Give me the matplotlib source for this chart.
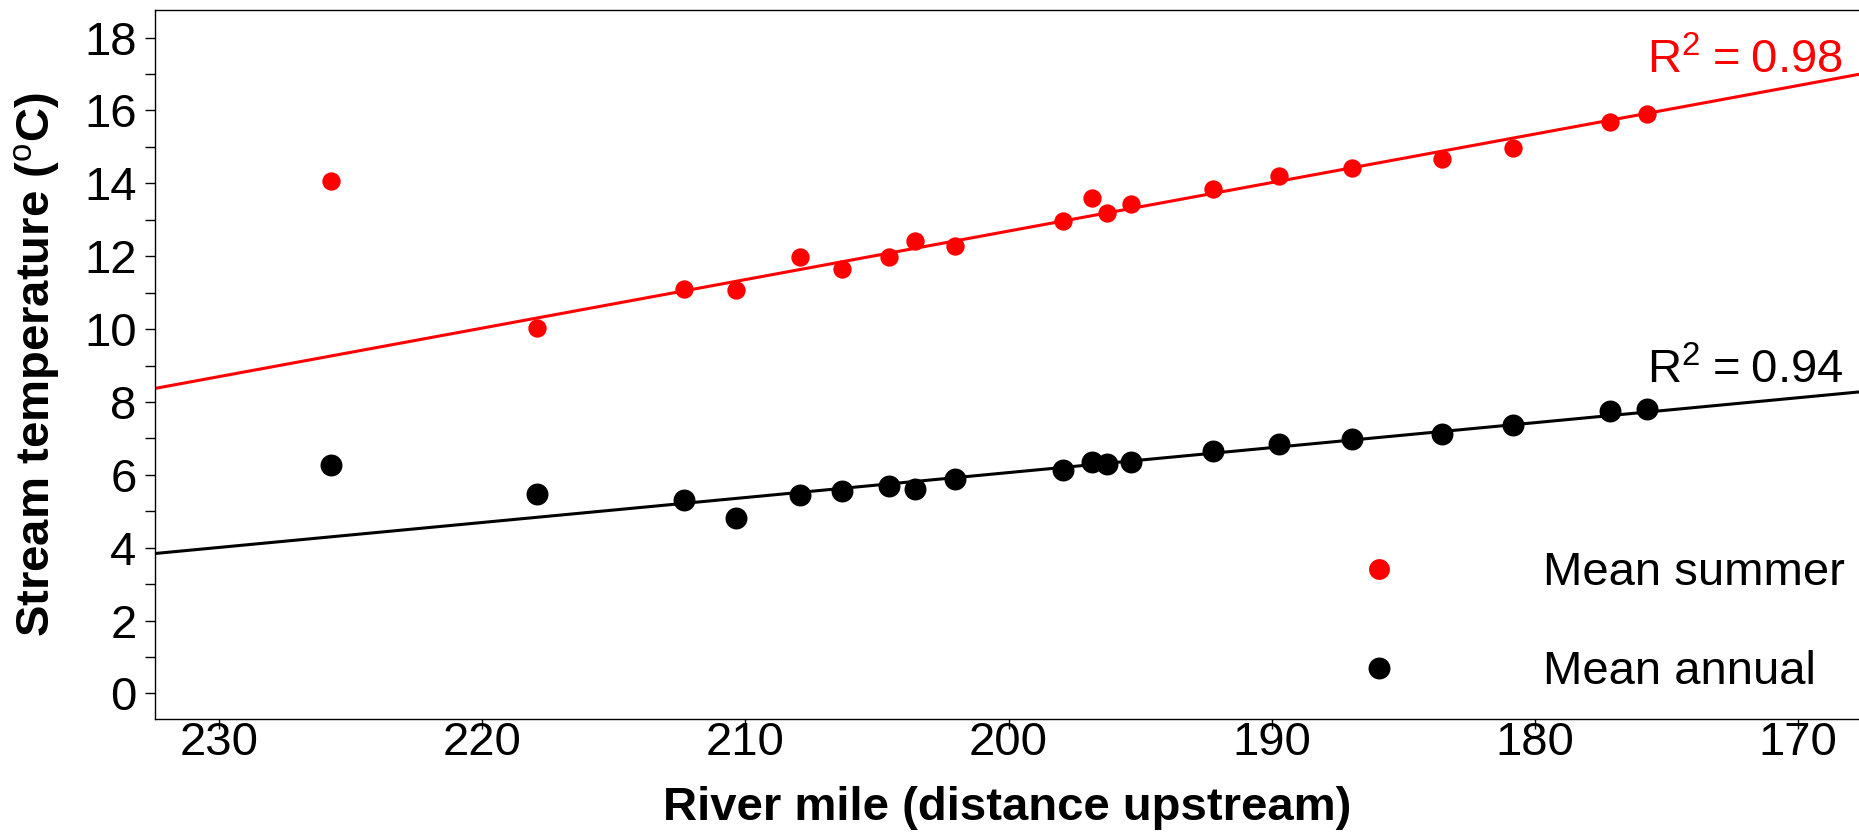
import numpy as np
import matplotlib
matplotlib.use("Agg")
import matplotlib.pyplot as plt
from matplotlib.lines import Line2D

plt.rcParams['font.family'] = ['Liberation Sans', 'DejaVu Sans']
plt.rcParams['mathtext.fontset'] = 'custom'
plt.rcParams['mathtext.rm'] = 'Liberation Sans'
plt.rcParams['mathtext.it'] = 'Liberation Sans:italic'

# river mile of each site
river_mile = [225.76, 217.93, 212.35, 210.37, 207.92, 206.35, 204.55, 203.57,
              202.04, 197.94, 196.83, 196.27, 195.35, 192.24, 189.73, 186.95,
              183.52, 180.83, 177.13, 175.75]
mean_summer = [14.07, 10.03, 11.09, 11.07, 11.98, 11.66, 11.98, 12.42,
               12.28, 12.96, 13.60, 13.19, 13.44, 13.85, 14.20, 14.42,
               14.68, 14.97, 15.69, 15.91]
mean_annual = [6.27, 5.47, 5.30, 4.82, 5.44, 5.56, 5.70, 5.61,
               5.88, 6.14, 6.36, 6.29, 6.36, 6.66, 6.84, 6.98,
               7.12, 7.36, 7.75, 7.80]
r2_summer = "0.98"
r2_annual = "0.94"
x_ticks = [230, 220, 210, 200, 190, 180, 170]
y_ticks = [0, 2, 4, 6, 8, 10, 12, 14, 16, 18]

x = np.array(river_mile)
ys = np.array(mean_summer)
ya = np.array(mean_annual)

fig = plt.figure(figsize=(18.59, 8.36), dpi=100)
ax = fig.add_axes([0.08354, 0.1396, 0.91646, 0.8481])

xlim = (232.43, 167.68)
ax.set_xlim(*xlim)
ax.set_ylim(-0.71, 18.75)

# regression lines (most upstream site left out of the fit)
xx = np.array(xlim)
ps = np.polyfit(x[1:], ys[1:], 1)
pa = np.polyfit(x[1:], ya[1:], 1)
ax.plot(xx, np.polyval(ps, xx), color='red', lw=2.2, zorder=2)
ax.plot(xx, np.polyval(pa, xx), color='black', lw=2.2, zorder=2)

ax.plot(x, ys, 'o', color='red', ms=13.2, mec='none', zorder=3)
ax.plot(x, ya, 'o', color='black', ms=15.8, mec='none', zorder=3)

eq = r'$\mathrm{R}^2\hspace{0.08}=\hspace{0.08}$'
ax.text(172.0, 17.01, eq + r2_summer, color='red',
        fontsize=34, ha='center', va='baseline')
ax.text(172.0, 8.51, eq + r2_annual, color='black',
        fontsize=34, ha='center', va='baseline')

handles = [Line2D([], [], ls='none', marker='o', color='red', ms=15, mec='none'),
           Line2D([], [], ls='none', marker='o', color='black', ms=15.8, mec='none')]
ax.legend(handles, ['Mean summer', 'Mean annual'], loc='center left',
          bbox_to_anchor=(0.6904, 0.136), frameon=False, fontsize=34,
          handlelength=2.0, handletextpad=2.47, labelspacing=1.17,
          borderpad=0, borderaxespad=0)

ax.set_xticks(x_ticks)
ax.set_xticklabels([str(t) for t in x_ticks])
ax.set_yticks(y_ticks)
ax.set_yticks(np.arange(1, 19, 2), minor=True)
ax.tick_params(axis='both', which='both', labelsize=34, length=7.2, width=1)
ax.tick_params(axis='x', pad=-5.8)
ax.tick_params(axis='y', pad=6.3)
ax.tick_params(axis='y', which='minor', length=7.2)

for s in ['left', 'bottom', 'top']:
    ax.spines[s].set_linewidth(1)
ax.spines['right'].set_visible(False)

ax.set_xlabel('River mile (distance upstream)', fontsize=34, fontweight='bold')
ax.set_ylabel('Stream temperature ($^\\mathrm{o}$C)', fontsize=34, fontweight='bold')
ax.xaxis.set_label_coords(0.5, -0.094)
ax.yaxis.set_label_coords(-0.0548, 0.5)

fig.savefig('out.png', dpi=100)
